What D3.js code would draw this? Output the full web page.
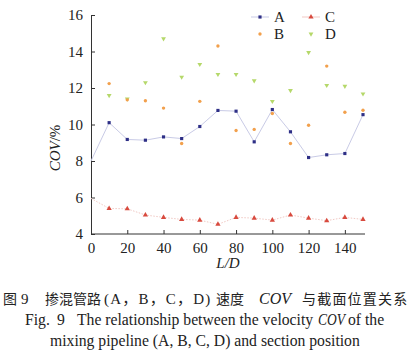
<!DOCTYPE html>
<html><head><meta charset="utf-8">
<script src="https://cdnjs.cloudflare.com/ajax/libs/d3/7.8.5/d3.min.js"></script>
<style>body{margin:0;background:#fff}svg{display:block}</style>
</head><body>
<svg id="c" width="412" height="355"></svg>
<script>
const positions = [10,20,30,40,50,60,70,80,90,100,110,120,130,140,150];
const seriesA = [10.1,9.18,9.14,9.32,9.23,9.89,10.77,10.73,9.05,10.82,9.6,8.19,8.34,8.41,10.54];
const seriesB = [12.24,11.35,11.3,10.9,8.96,11.27,14.3,9.67,9.73,10.6,8.96,9.96,13.2,10.67,10.78];
const seriesC = [5.4,5.38,5.04,4.91,4.8,4.76,4.53,4.91,4.87,4.76,5.04,4.87,4.73,4.91,4.8];
const seriesD = [11.59,11.4,12.3,14.7,12.6,13.3,12.75,12.75,12.4,11.27,11.87,13.95,12.15,12.1,11.68];
const lineStartA = [0, 8.0];
const lineStartC = [0, 5.95];
const xTicks = [0,20,40,60,80,100,120,140];
const yTicks = [4,6,8,10,12,14,16];
const legendNames = ["A","B","C","D"];

const svg = d3.select("#c");
const serif = "'Liberation Serif','DejaVu Serif','Noto Sans CJK SC',serif";
const cjk = "'Noto Sans CJK SC',sans-serif";
const x = d3.scaleLinear().domain([0,150]).range([91,363]);
const y = d3.scaleLinear().domain([4,16]).range([234,15]);

const colors = {A:"#2e2f86",B:"#f2a04c",C:"#d84a3e",D:"#b5d86a"};
const lineColors = {A:"#c9cbe6",C:"#f1c9c4"};

// axes
const gx = svg.append("g").attr("transform","translate(0,234)")
  .call(d3.axisBottom(x).tickValues(xTicks).tickSizeInner(-4).tickSizeOuter(0).tickPadding(8));
const gy = svg.append("g").attr("transform","translate(91,0)")
  .call(d3.axisLeft(y).tickValues(yTicks).tickSizeInner(-4).tickSizeOuter(0).tickPadding(8));
[gx,gy].forEach(g=>{
  g.select(".domain").attr("stroke","#333").attr("stroke-width",1);
  g.selectAll(".tick line").attr("stroke","#333");
  g.selectAll("text").attr("font-family",serif).attr("font-size",15).attr("fill","#222");
});
gx.select(".domain").attr("d","M91,0H365");

// lines
const lineGen = d3.line().x(d=>x(d[0])).y(d=>y(d[1]));
const ptsA = [lineStartA].concat(positions.map((p,i)=>[p,seriesA[i]]));
const ptsC = [lineStartC].concat(positions.map((p,i)=>[p,seriesC[i]]));
svg.append("path").attr("d",lineGen(ptsA)).attr("fill","none").attr("stroke",lineColors.A).attr("stroke-width",1);
svg.append("path").attr("d",lineGen(ptsC)).attr("fill","none").attr("stroke",lineColors.C).attr("stroke-width",1).attr("stroke-dasharray","1.5,1.5");

const sym = {
  A: d3.symbol().type(d3.symbolSquare).size(10),
  B: d3.symbol().type(d3.symbolCircle).size(9),
  C: d3.symbol().type(d3.symbolTriangle).size(12),
  D: d3.symbol().type(d3.symbolTriangle).size(10)
};
const data = {A:seriesA,B:seriesB,C:seriesC,D:seriesD};
["D","B","C","A"].forEach(k=>{
  svg.append("g").selectAll("path").data(positions.map((p,i)=>[p,data[k][i]])).join("path")
    .attr("d",sym[k]())
    .attr("transform",d=>`translate(${x(d[0])},${y(d[1])})${k==="D"?" rotate(180)":""}`)
    .attr("fill",colors[k]);
});

// legend
const legPos = {A:[260,17],B:[260,34],C:[311,17],D:[311,34]};
legendNames.forEach(k=>{
  const [lx,ly] = legPos[k];
  if(k==="A"||k==="C"){
    svg.append("line").attr("x1",lx-9).attr("x2",lx+9).attr("y1",ly).attr("y2",ly)
      .attr("stroke",lineColors[k]).attr("stroke-width",1);
  }
  svg.append("path").attr("d",sym[k]())
    .attr("transform",`translate(${lx},${ly})${k==="D"?" rotate(180)":""}`).attr("fill",colors[k]);
  svg.append("text").attr("x",lx+14).attr("y",ly+5).text(k)
    .attr("font-family",serif).attr("font-size",15).attr("fill","#222");
});

// axis labels
svg.append("text").attr("x",228).attr("y",268).attr("text-anchor","middle")
  .attr("font-family",serif).attr("font-size",15).attr("font-style","italic").attr("fill","#222").text("L/D");
svg.append("text").attr("transform","translate(60,148) rotate(-90)").attr("text-anchor","middle")
  .attr("font-family",serif).attr("font-size",15).attr("fill","#222")
  .html("<tspan font-style='italic'>COV</tspan>/%");

// caption segments
function seg(t, sx, sy, font, size, opts){
  opts = opts || {};
  const el = svg.append("text").attr("x",sx).attr("y",sy).attr("font-size",size)
    .attr("font-family",font).attr("fill","#222").text(t);
  if(opts.italic) el.attr("font-style","italic");
  if(opts.ls) el.attr("letter-spacing",opts.ls);
  return el;
}
seg("图", 3, 304, cjk, 14);
seg("9", 21, 304, serif, 15);
seg("掺混管路", 45, 304, cjk, 14);
seg("(A，B，C，D)", 104, 304, serif, 15, {ls:1.2});
seg("速度", 216, 304, cjk, 14);
seg("COV", 259, 304, serif, 16, {italic:true});
seg("与截面位置关系", 302, 304, cjk, 14, {ls:1.2});
seg("Fig.", 25, 325, serif, 15.7);
seg("9", 57, 325, serif, 15.7);
seg("The relationship between the velocity", 77, 325, serif, 15.7);
seg("COV", 318, 325, serif, 15.7, {italic:true}).attr("textLength",27).attr("lengthAdjust","spacingAndGlyphs");
seg("of the", 348, 325, serif, 15.7);
seg("mixing pipeline (A, B, C, D) and section position", 50, 346, serif, 15.7);
</script>
</body></html>
